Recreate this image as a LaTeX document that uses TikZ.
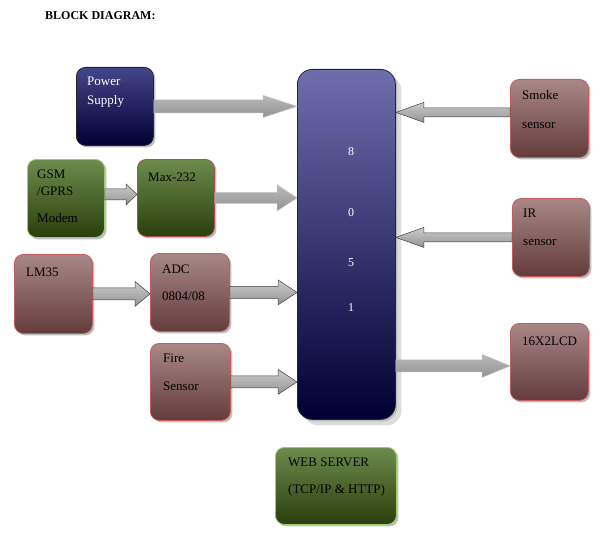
\documentclass[tikz,border=0pt]{standalone}
\usepackage{fontspec}
\setmainfont{Liberation Serif}
\usetikzlibrary{calc,shadows}

\definecolor{navyT}{HTML}{45458A}
\definecolor{mcuT}{HTML}{6E6EAE}
\definecolor{navyB}{HTML}{000033}
\definecolor{grnT}{HTML}{6C8C4C}
\definecolor{grnB}{HTML}{2A3F0C}
\definecolor{grnL}{HTML}{9CCB72}
\definecolor{brnT}{HTML}{A98787}
\definecolor{brnB}{HTML}{643C3C}
\definecolor{brnL}{HTML}{C45E5E}

\tikzset{
  box/.style={rectangle, rounded corners=9pt, anchor=north west, line width=0.8pt,
    inner sep=0pt, drop shadow={shadow xshift=2pt, shadow yshift=-2pt, fill=black, opacity=0.25}},
  navybox/.style={box, top color=navyT, bottom color=navyB, draw=black!85},
  greenbox/.style={box, top color=grnT, bottom color=grnB, draw=grnL},
  brownbox/.style={box, top color=brnT, bottom color=brnB, draw=brnL},
  % first line: top of node sits 11pt above its baseline
  txt/.style={anchor=north west, inner sep=0pt, align=left, font=\fontsize{13}{17}\selectfont,
    execute at begin node={\rule{0pt}{11pt}}},
  % block arrow: half shaft, half head, head length
  ablk/.style n args={3}{to path={
    let \p1=(\tikztostart), \p2=(\tikztotarget), \n1={sign(\x2-\x1)} in
    ({\x1},{\y1+#1}) -- ({\x2-\n1*#3},{\y1+#1}) -- ({\x2-\n1*#3},{\y1+#2}) -- ({\x2},{\y1})
    -- ({\x2-\n1*#3},{\y1-#2}) -- ({\x2-\n1*#3},{\y1-#1}) -- ({\x1},{\y1-#1}) -- cycle}},
  arr/.style={shade, top color=gray!40, bottom color=gray!85, draw=black!75, line width=0.5pt},
  arrl/.style={arr, top color=gray!55, bottom color=gray!85, draw=gray!50}
}

\begin{document}
\begin{tikzpicture}[x=1pt, y=-1pt]
  \useasboundingbox (0,0) rectangle (601,540);
  \node[anchor=base west, inner sep=0pt, font=\bfseries\fontsize{12}{14}\selectfont] (title) at (45,20) {BLOCK DIAGRAM:};

  % Controller
  \node[box, top color=mcuT, bottom color=navyB, draw=black!85, rounded corners=15pt,
    minimum width=98pt, minimum height=350pt,
    drop shadow={shadow xshift=6pt, shadow yshift=-6pt, fill=gray!55}] (mcu) at (297,69) {};
  \foreach \d/\y in {8/155, 0/216, 5/266, 1/311} {
    \node[anchor=base, inner sep=0pt, text=white, font=\fontsize{12}{14}\selectfont] (mcu\d) at (351,\y) {\d};
  }

  % Left side
  \node[navybox, minimum width=77pt, minimum height=78pt] (pw) at (76,67) {};
  \node[txt, text=white] (pwT) at ([shift={(11,10)}]pw.north west) {Power\\[2pt]Supply};
  \node[greenbox, minimum width=77pt, minimum height=78pt] (gsm) at (27,159) {};
  \node[txt] (gsmT) at ([shift={(10,11)}]gsm.north west) {GSM\\/GPRS\\[10pt]Modem};
  \node[greenbox, draw=brnL!85!black, minimum width=77pt, minimum height=77pt] (mx) at (137,159) {};
  \node[txt] (mxT) at ([shift={(11,11)}]mx.north west) {Max-232};
  \node[brownbox, minimum width=78pt, minimum height=79pt] (lm) at (14,254) {};
  \node[txt] (lmT) at ([shift={(12,11)}]lm.north west) {LM35};
  \node[brownbox, minimum width=79pt, minimum height=78pt] (adc) at (150,253) {};
  \node[txt] (adcT) at ([shift={(12,12)}]adc.north west) {ADC\\[10pt]0804/08};
  \node[brownbox, minimum width=80pt, minimum height=77pt] (fire) at (150,343) {};
  \node[txt] (fireT) at ([shift={(13,11)}]fire.north west) {Fire\\[11pt]Sensor};

  % Right side
  \node[brownbox, minimum width=78pt, minimum height=78pt] (smk) at (510,79) {};
  \node[txt] (smkT) at ([shift={(12,11)}]smk.north west) {Smoke\\[12pt]sensor};
  \node[brownbox, minimum width=77pt, minimum height=78pt] (ir) at (512,198) {};
  \node[txt] (irT) at ([shift={(11,11)}]ir.north west) {IR\\[11pt]sensor};
  \node[brownbox, minimum width=78pt, minimum height=77pt] (lcd) at (510,323) {};
  \node[txt] (lcdT) at ([shift={(12,11)}]lcd.north west) {16X2LCD};

  % Bottom
  \node[greenbox, minimum width=121pt, minimum height=77pt] (web) at (275,447) {};
  \node[txt] (webT) at ([shift={(13,11)}]web.north west) {WEB SERVER\\[10pt](TCP/IP \& HTTP)};

  % Arrow end points
  \coordinate (pwin) at (pw.east -| mcu.west);
  \coordinate (mxin) at (mx.east -| mcu.west);
  \coordinate (gsmout) at ([yshift=4pt]gsm.east);
  \coordinate (gsmin) at (gsmout -| mx.west);
  \coordinate (adcin) at (lm.east -| adc.west);
  \coordinate (adcout) at (adc.east -| mcu.west);
  \coordinate (firein) at (fire.east -| mcu.west);
  \coordinate (smkout) at ([yshift=6pt]smk.west);
  \coordinate (smkin) at (smkout -| mcu.east);
  \coordinate (irin) at (ir.west -| mcu.east);
  \coordinate (lcdin) at ([yshift=-4pt]lcd.west);
  \coordinate (lcdout) at (lcdin -| mcu.east);

  % Arrows
  \path[arrl] (pw.east) to[ablk={6.5pt}{11pt}{34pt}] (pwin);
  \path[arrl] (mx.east) to[ablk={5.5pt}{13pt}{20pt}] (mxin);
  \path[arr] (gsmout) to[ablk={5.5pt}{10.5pt}{11pt}] (gsmin);
  \path[arr] (lm.east) to[ablk={6pt}{12.5pt}{15pt}] (adcin);
  \path[arr] (adc.east) to[ablk={6pt}{12.5pt}{19pt}] (adcout);
  \path[arr] (fire.east) to[ablk={6pt}{12.5pt}{19pt}] (firein);
  \path[arr] (smkout) to[ablk={4.5pt}{10pt}{28pt}] (smkin);
  \path[arr] (ir.west) to[ablk={4.5pt}{10pt}{28pt}] (irin);
  \path[arrl] (lcdout) to[ablk={6pt}{11.5pt}{28pt}] (lcdin);
\end{tikzpicture}
\end{document}
